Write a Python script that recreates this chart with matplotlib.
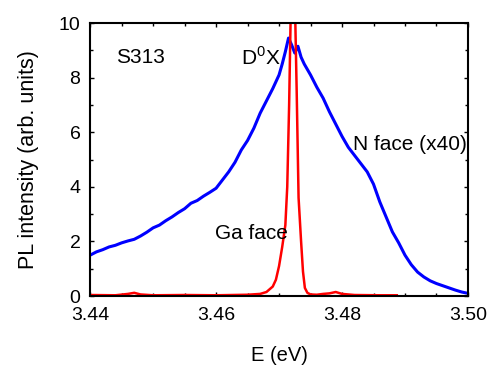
import numpy as np
import matplotlib.pyplot as plt
from matplotlib.ticker import MultipleLocator

plt.rcParams['font.family'] = ['Liberation Sans', 'DejaVu Sans']

# N face spectrum (x40)
n_energy = [3.4400, 3.4410, 3.4420, 3.4430, 3.4440, 3.4450, 3.4460, 3.4470, 3.4480, 3.4490,
            3.4500, 3.4510, 3.4520, 3.4530, 3.4540, 3.4550, 3.4560, 3.4570, 3.4580, 3.4590,
            3.4600, 3.4610, 3.4620, 3.4630, 3.4640, 3.4650, 3.4660, 3.4670, 3.4680, 3.4690,
            3.4700, 3.4705, 3.4710, 3.4715, 3.4720, 3.4725, 3.4730, 3.4735, 3.4740, 3.4750,
            3.4760, 3.4770, 3.4780, 3.4790, 3.4800, 3.4810, 3.4820, 3.4830, 3.4840, 3.4850,
            3.4860, 3.4870, 3.4880, 3.4890, 3.4900, 3.4910, 3.4920, 3.4930, 3.4940, 3.4950,
            3.4960, 3.4970, 3.4980, 3.4990, 3.5000]
n_intensity = [1.50, 1.62, 1.70, 1.80, 1.86, 1.95, 2.02, 2.08, 2.20, 2.34,
               2.50, 2.60, 2.76, 2.90, 3.06, 3.20, 3.40, 3.50, 3.66, 3.80,
               3.95, 4.25, 4.55, 4.90, 5.35, 5.70, 6.15, 6.70, 7.15, 7.60,
               8.10, 8.50, 8.95, 9.45, 9.20, 8.90, 9.15, 8.75, 8.50, 8.10,
               7.65, 7.25, 6.75, 6.30, 5.85, 5.45, 5.15, 4.85, 4.55, 4.10,
               3.45, 2.90, 2.35, 1.95, 1.50, 1.15, 0.88, 0.70, 0.56, 0.46,
               0.38, 0.30, 0.22, 0.15, 0.10]

# Ga face spectrum
ga_energy = [3.4400, 3.4440, 3.4460, 3.4470, 3.4480, 3.4500, 3.4550, 3.4600, 3.4650, 3.4670,
             3.4680, 3.4690, 3.4695, 3.4700, 3.4705, 3.4710, 3.4713, 3.4716, 3.4719, 3.4722,
             3.4725, 3.4728, 3.4731, 3.4733, 3.4735, 3.4738, 3.4741, 3.4745, 3.4750, 3.4760,
             3.4770, 3.4780, 3.4790, 3.4800, 3.4820, 3.4860, 3.4887]
ga_intensity = [0.04, 0.03, 0.08, 0.12, 0.06, 0.03, 0.04, 0.03, 0.05, 0.08,
                0.15, 0.35, 0.60, 1.10, 1.80, 2.60, 4.00, 7.00, 11.0, 12.0,
                11.0, 7.50, 3.60, 2.80, 2.00, 0.90, 0.30, 0.12, 0.06, 0.05,
                0.08, 0.10, 0.15, 0.08, 0.04, 0.03, 0.03]

fig = plt.figure(figsize=(4.9, 3.66), dpi=100)
ax = fig.add_axes([0.184, 0.191, 0.771, 0.746])

ax.plot(n_energy, n_intensity, color='#0000ff', lw=2.2)
ax.plot(ga_energy, ga_intensity, color='#ff0000', lw=1.8)

ax.set_xlim(3.44, 3.50)
ax.set_ylim(0, 10)
ax.xaxis.set_minor_locator(MultipleLocator(0.005))
ax.yaxis.set_major_locator(MultipleLocator(2))
ax.yaxis.set_minor_locator(MultipleLocator(1))
ax.set_xticks([3.44, 3.46, 3.48, 3.50])
ax.set_xticklabels(['3.44', '3.46', '3.48', '3.50'])
ax.tick_params(which='both', direction='in', top=True, right=True, width=1.0, labelsize=14)
ax.tick_params(axis='x', which='major', length=3, pad=8)
ax.tick_params(axis='y', which='major', length=3, pad=7)
ax.tick_params(which='minor', length=2.5)
for s in ax.spines.values():
    s.set_linewidth(1.5)

ax.set_xlabel('E (eV)', fontsize=14.5, labelpad=16)
ax.set_ylabel('PL intensity (arb. units)', fontsize=15.5, labelpad=14)

ax.text(3.4441, 8.75, 'S313', fontsize=15, va='center')
ax.text(3.4702, 8.75, r'D$^{\mathregular{0}}$X', fontsize=15, va='center', ha='right')
ax.text(3.4817, 5.55, 'N face (x40)', fontsize=15, va='center')
ax.text(3.4598, 2.30, 'Ga face', fontsize=15, va='center')

fig.savefig('out.png', dpi=100)
